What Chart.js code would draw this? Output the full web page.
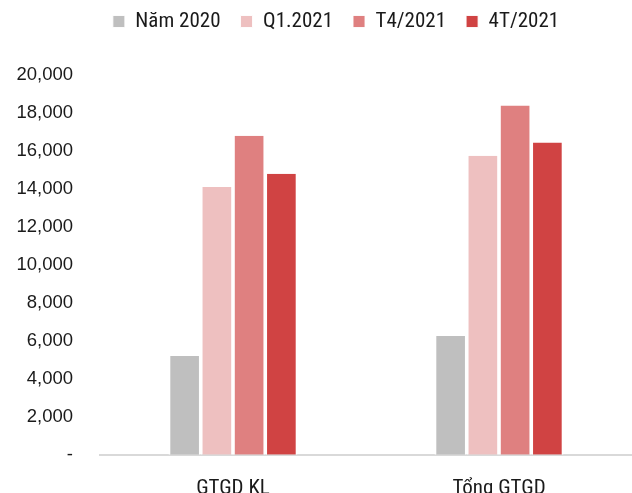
<!DOCTYPE html>
<html><head><meta charset="utf-8">
<script src="https://cdn.jsdelivr.net/npm/chart.js@4/dist/chart.umd.min.js"></script>
<style>html,body{margin:0;padding:0;overflow:hidden;background:#fff}#wrap{position:relative;width:632px;height:522px}</style>
</head><body><div id="wrap"><canvas id="c"></canvas></div>
<script>
const categories = ["GTGD KL", "Tổng GTGD"];
const seriesNames = ["Năm 2020", "Q1.2021", "T4/2021", "4T/2021"];
const nam2020 = [5200, 6250];
const q1_2021 = [14100, 15750];
const t4_2021 = [16800, 18400];
const t4t_2021 = [14800, 16450];
const yMax = 20000;
const yStep = 2000;

const colors = ["#bfbfbf", "#eec0c0", "#df8080", "#d04343"];
const values = [nam2020, q1_2021, t4_2021, t4t_2021];
const narrow = "'Liberation Sans Narrow', 'Roboto Condensed', 'DejaVu Sans Condensed', 'Arial Narrow', sans-serif";

const legendShift = {
  id: 'legendShift',
  afterLayout(chart) {
    const l = chart.legend;
    if (l) { l.left += 40; l.top -= 33; }
  }
};

new Chart(document.getElementById('c'), {
  type: 'bar',
  data: {
    labels: categories,
    datasets: seriesNames.map((n, i) => ({
      label: n,
      data: values[i],
      backgroundColor: colors[i],
      borderColor: '#ffffff',
      borderWidth: {left: 1.8, right: 1.8, top: 0, bottom: 0},
      borderSkipped: false,
      categoryPercentage: 0.485,
      barPercentage: 1.0
    }))
  },
  options: {
    responsive: true,
    maintainAspectRatio: false,
    animation: false,
    layout: {padding: {top: 24, right: 0, left: 0, bottom: 0}},
    plugins: {
      legend: {
        position: 'top',
        labels: {
          boxWidth: 12, boxHeight: 12, padding: 20,
          color: '#1a1a1a',
          font: {family: narrow, size: 21}
        }
      },
      tooltip: {enabled: false}
    },
    scales: {
      x: {
        grid: {display: false, drawTicks: false},
        border: {display: true, color: '#d9d9d9', width: 2},
        ticks: {color: '#1a1a1a', padding: 21, font: {family: narrow, size: 21}}
      },
      y: {
        min: 0, max: yMax,
        grid: {display: false, drawTicks: false},
        border: {display: false},
        afterFit(scale) { scale.width = 100; },
        ticks: {
          stepSize: yStep,
          padding: 27,
          color: '#1a1a1a',
          font: {family: "'Liberation Sans', Arial, sans-serif", size: 18.5},
          callback: v => v === 0 ? '-' : v.toLocaleString('en-US')
        }
      }
    }
  },
  plugins: [legendShift]
});
</script></body></html>
